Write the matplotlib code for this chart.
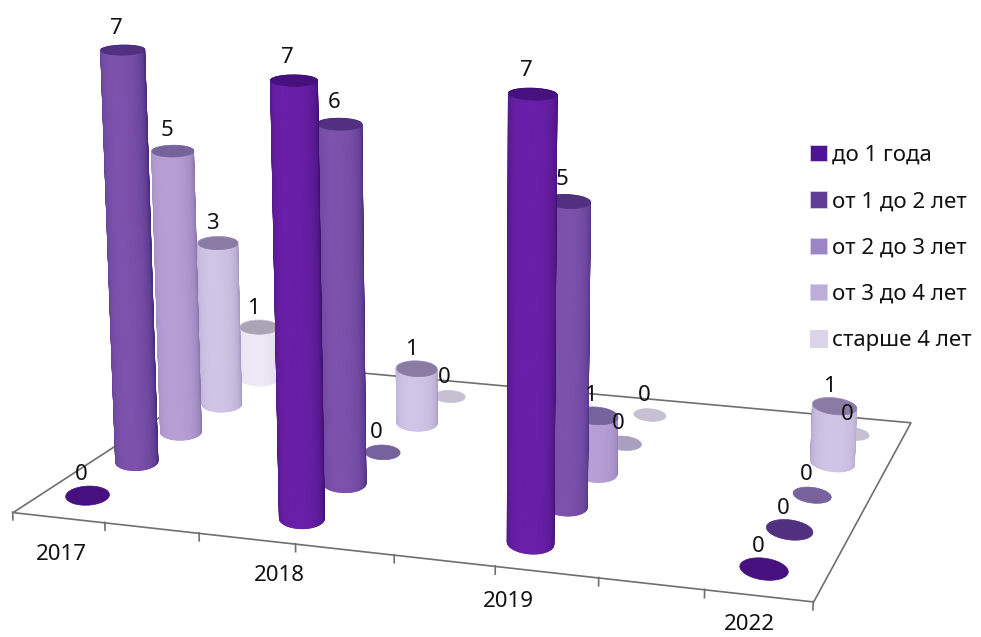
import numpy as np
import matplotlib
matplotlib.use("Agg")
import matplotlib.pyplot as plt
from matplotlib.colors import to_rgb
from matplotlib.patches import Patch
from mpl_toolkits.mplot3d import proj3d
from mpl_toolkits.mplot3d.art3d import Poly3DCollection

years = ["2017", "2018", "2019", "2022"]
series_names = ["до 1 года", "от 1 до 2 лет", "от 2 до 3 лет", "от 3 до 4 лет", "старше 4 лет"]
do_1 = [0, 7, 7, 0]
ot_1_2 = [7, 6, 5, 0]
ot_2_3 = [5, 0, 1, 0]
ot_3_4 = [3, 1, 0, 1]
starshe_4 = [1, 0, 0, 0]

side_light = ["#6a1fa8", "#7c52ab", "#b59fd5", "#d0c5e6", "#eee9f7"]
side_dark = ["#3e1170", "#4a2d80", "#8e78b0", "#a99bc5", "#d5cfe2"]
top_cols = ["#47107f", "#50307f", "#76639c", "#8a7ba5", "#aaa5b5"]
disc_cols = ["#47107f", "#50307f", "#76639c", "#ab9fbe", "#c6c0d2"]
legend_cols = ["#4f1396", "#5f3c95", "#9c85c4", "#bcaed9", "#dcd5ea"]

# камера подобрана по картинке: (x, y, z) -> пиксели
camera = np.array([
    [88.904808, 56.224142, -2.871515, 24.168116],
    [4.35332, -15.354218, -62.747523, 513.410838],
    [-0.010905, 0.040743, -0.005948, 1.0],
])
x_pos = [0.342, 2.721, 5.124, 7.446]
y_pos = [0.611, 1.613, 2.573, 3.527, 4.479]
label_x = [0.40, 2.77, 5.13, 7.48]
label_z = [-0.62, -0.55, -0.55, -0.47]
disc_scale = [1, 1, 0.85, 0.85, 0.8]

plt.rcParams['font.family'] = ['Noto Sans', 'DejaVu Sans']
fig = plt.figure(figsize=(9.81, 6.37), dpi=100)
h = 981 / 637
ax = fig.add_axes([0, (1 - h) / 2, 1, h], projection='3d', computed_zorder=False)
ax.set_axis_off()
ax.apply_aspect()
inv = ax.transData.inverted()
p0 = inv.transform((0, 637))
p1 = inv.transform((981, 0))
sx = (p1[0] - p0[0]) / 981
sy = (p1[1] - p0[1]) / 637
M = np.array([
    sx * camera[0] + p0[0] * camera[2],
    sy * camera[1] + p0[1] * camera[2],
    [0, 1, 0, 0],
    camera[2],
])
ax.get_proj = lambda: M
ax.set_xlim(0, 8)
ax.set_ylim(0, 5)
ax.set_zlim(0, 8)


def label(x, y, z, s, zorder):
    u, v, _ = proj3d.proj_transform(x, y, z, M)
    ax.text2D(u, v, s, transform=ax.transData, ha='center', va='center', fontsize=16,
              fontweight='semibold', zorder=zorder, color='#111111')


# пол и засечки
x0, x1 = -0.13, 8.07
floor = Poly3DCollection([[(x0, 0, 0), (x1, 0, 0), (8.0, 5, 0), (x0, 5, 0)]],
                         facecolors='white', edgecolors='#6f6f6f', linewidths=1.2, zorder=1)
ax.add_collection3d(floor)
for t in np.linspace(x0, x1, 9):
    ax.plot([t, t], [0, 0], [0, -0.13], color='#6f6f6f', lw=1.2, zorder=2)
for i, y in enumerate(years):
    label(label_x[i], 0, label_z[i], y, 200)

theta = np.linspace(0, 2 * np.pi, 121)
mid = (theta[:-1] + theta[1:]) / 2
series = [do_1, ot_1_2, ot_2_3, ot_3_4, starshe_4]
for r in range(4, -1, -1):
    z0 = (5 - r) * 10
    light = np.array(to_rgb(side_light[r]))
    dark = np.array(to_rgb(side_dark[r]))
    for i, v in enumerate(series[r]):
        k = 1 if v > 0 else disc_scale[r]
        ex = x_pos[i] + k * (0.235 * np.cos(theta) - 0.065 * np.sin(theta))
        ey = y_pos[r] + k * 0.25 * np.sin(theta)
        if v > 0:
            X = np.vstack([ex, ex])
            Y = np.vstack([ey, ey])
            Z = np.vstack([ex * 0, ex * 0 + v])
            c = np.clip(-np.sin(mid), 0, 1) ** 0.55
            fc = np.ones((1, len(mid), 4))
            fc[0, :, :3] = dark + (light - dark) * c[:, None]
            surf = ax.plot_surface(X, Y, Z, facecolors=fc, rstride=1, cstride=1, shade=False,
                                   linewidth=0.8, zorder=z0)
            surf.set_snap(False)
        col = top_cols[r] if v > 0 else disc_cols[r]
        ax.add_collection3d(Poly3DCollection([list(zip(ex, ey, ex * 0 + v))], facecolors=col,
                                             edgecolors=col, linewidths=0.5, zorder=z0 + 1))
        if v > 0:
            front = theta >= np.pi
            ax.plot(ex[front], ey[front], ex[front] * 0 + v, color='#d6cbe8', lw=1.5, zorder=z0 + 2)
        label(x_pos[i] - 0.06, y_pos[r], v + 0.34, str(v), 210)

handles = [Patch(facecolor=c, edgecolor='#d9d0ea', lw=0.6) for c in legend_cols]
fig.legend(handles, series_names, loc='upper left', bbox_to_anchor=(810 / 981, 1 - 145 / 637),
           frameon=False, handlelength=0.75, handleheight=0.75, handletextpad=0.25,
           labelspacing=1.14, borderpad=0, borderaxespad=0, labelcolor='#111111',
           prop={'size': 16, 'weight': 'semibold'})
fig.savefig("out.png", dpi=100)
